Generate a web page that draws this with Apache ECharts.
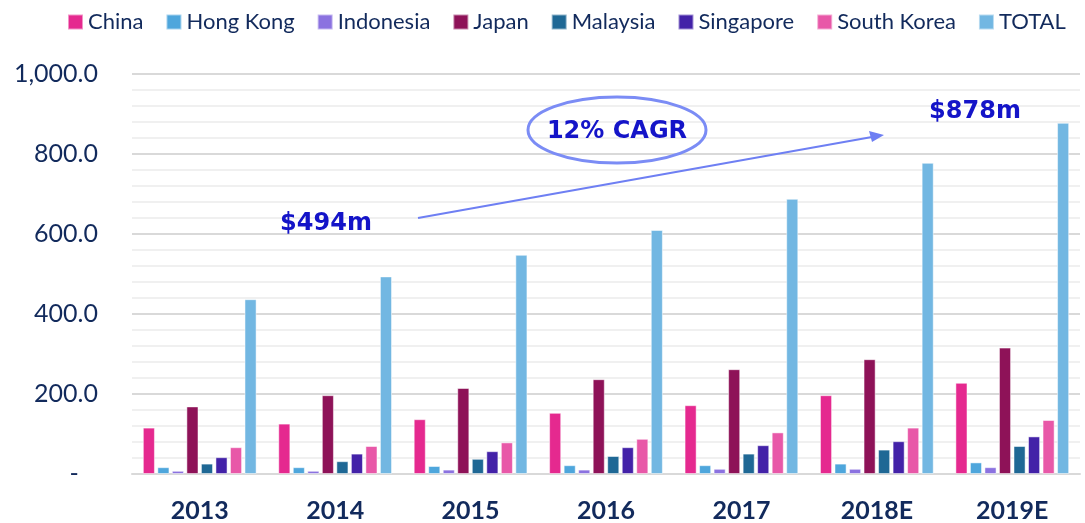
<!DOCTYPE html>
<html>
<head>
<meta charset="utf-8">
<script src="https://cdn.jsdelivr.net/npm/echarts@6/dist/echarts.min.js"></script>
<style>
  html, body { margin: 0; padding: 0; background: #fff; }
  #chart { width: 1085px; height: 523px; }
</style>
</head>
<body>
<div id="chart"></div>
<script>
const years = ['2013', '2014', '2015', '2016', '2017', '2018E', '2019E']

const china = [116, 126, 137, 153, 172, 197, 228]
const hongKong = [17, 17, 20, 22, 22, 26, 29]
const indonesia = [8, 8, 11, 11, 13, 13, 17]
const japan = [169, 197, 215, 237, 262, 287, 316]
const malaysia = [26, 32, 38, 45, 51, 61, 70]
const singapore = [42, 51, 57, 67, 72, 82, 94]
const southKorea = [67, 70, 79, 88, 104, 116, 135]
const total = [437, 494, 548, 610, 688, 778, 878]

const seriesDefs = [
  { name: 'China', data: china, color: '#E5298F' },
  { name: 'Hong Kong', data: hongKong, color: '#4EA6DC' },
  { name: 'Indonesia', data: indonesia, color: '#8B72E0' },
  { name: 'Japan', data: japan, color: '#8E1258' },
  { name: 'Malaysia', data: malaysia, color: '#1F6895' },
  { name: 'Singapore', data: singapore, color: '#4322A8' },
  { name: 'South Korea', data: southKorea, color: '#E858A8' },
  { name: 'TOTAL', data: total, color: '#72B7E2' },
]

const navy = '#122A5C'
const annoBlue = '#1414C8'
const chart = echarts.init(document.getElementById('chart'))

chart.setOption({
  animation: false,
  legend: {
    top: 6,
    left: 62,
    itemWidth: 15,
    itemHeight: 15,
    itemGap: 22,
    icon: 'rect',
    textStyle: { color: navy, fontSize: 22, fontFamily: 'Lato' },
    data: seriesDefs.map((s) => s.name),
  },
  grid: { left: 132, right: 5, top: 74, bottom: 49 },
  xAxis: {
    type: 'category',
    data: years,
    axisTick: { show: false },
    axisLine: { lineStyle: { color: '#D9D9D9', width: 2 } },
    axisLabel: { color: navy, fontSize: 25, fontWeight: 'bold', fontFamily: 'Lato', margin: 24 },
  },
  yAxis: {
    type: 'value',
    min: 0,
    max: 1000,
    interval: 200,
    axisLine: { show: false },
    axisTick: { show: false },
    axisLabel: {
      color: navy,
      fontSize: 25,
      fontFamily: 'Lato',
      margin: 34,
      // accounting style: zero shown as a dash, indented
      formatter: (v) => (v === 0 ? '-   ' : v.toLocaleString('en-US', { minimumFractionDigits: 1, maximumFractionDigits: 1 })),
    },
    splitLine: { lineStyle: { color: '#D9D9D9', width: 2 } },
    minorTick: { show: false, splitNumber: 5 },
    minorSplitLine: { show: true, lineStyle: { color: '#F0F0F0', width: 2 } },
  },
  series: seriesDefs.map((s) => ({
    name: s.name,
    type: 'bar',
    data: s.data,
    barGap: '20%',
    barCategoryGap: '16%',
    itemStyle: { color: s.color, borderColor: 'rgba(255,255,255,0.5)', borderWidth: 1 },
  })),
  // CAGR callout
  graphic: [
    {
      type: 'ellipse',
      z: 100,
      shape: { cx: 617, cy: 130, rx: 89, ry: 33 },
      style: { fill: 'none', stroke: '#7B8CF5', lineWidth: 3 },
    },
    {
      type: 'text',
      z: 100,
      x: 617, y: 132,
      style: { text: '12% CAGR', fill: annoBlue, font: 'bold 24px "DejaVu Sans"', align: 'center', verticalAlign: 'middle' },
    },
    {
      type: 'text',
      z: 100,
      x: 326, y: 224,
      style: { text: '$494m', fill: annoBlue, font: 'bold 24px "DejaVu Sans"', align: 'center', verticalAlign: 'middle' },
    },
    {
      type: 'text',
      z: 100,
      x: 975, y: 112,
      style: { text: '$878m', fill: annoBlue, font: 'bold 24px "DejaVu Sans"', align: 'center', verticalAlign: 'middle' },
    },
    {
      type: 'line',
      z: 100,
      shape: { x1: 418, y1: 218, x2: 872, y2: 137 },
      style: { stroke: '#6E7FF3', lineWidth: 2 },
    },
    {
      type: 'polygon',
      z: 100,
      shape: { points: [[884, 135], [869, 131], [872, 142]] },
      style: { fill: '#6E7FF3' },
    },
  ],
})
</script>
</body>
</html>
